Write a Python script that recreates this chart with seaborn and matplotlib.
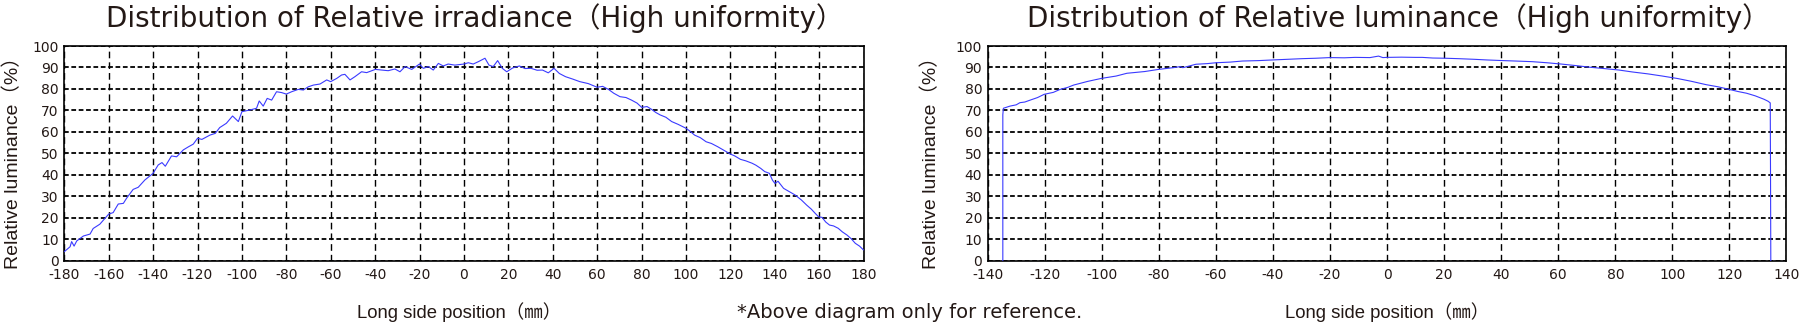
import matplotlib
matplotlib.use("Agg")
import matplotlib.pyplot as plt
import seaborn as sns
import pandas as pd

# ---- data ----
irr_pos = [-180, -177.4, -176.7, -175.6, -174.4, -171.4, -168.4, -167, -164, -160, -158, -155.7,
           -153.4, -152, -149, -146.7, -143.7, -140, -137.7, -136, -134.5, -131.7, -129.4, -126.4,
           -124, -121.9, -120, -118, -114.4, -112, -110, -107, -104.2, -101.6, -100, -96.4, -93.4,
           -92.2, -90.4, -88.6, -86.6, -84.4, -82.1, -80, -77.6, -74.6, -72.3, -70.1, -67.8, -64.8,
           -61.8, -60, -57.3, -55.1, -53.6, -51.3, -49.1, -46.1, -43.8, -39.9, -37.1, -34.1, -31.1,
           -28.8, -26.5, -23.5, -20, -18.3, -16, -13.8, -11.5, -9.3, -7.1, -4.1, 0, 2, 4.2, 6.5,
           9.5, 11.3, 13.2, 15.2, 17.3, 19.3, 22, 25, 27.5, 30.2, 33, 35.4, 38, 40.6, 43, 45.8, 49,
           52.2, 56, 60, 62.5, 65.1, 67.5, 70.3, 73, 75.5, 78, 80.1, 82.5, 84.5, 86.5, 88.4, 91,
           93.6, 96.5, 100, 102, 103.9, 106.5, 109.1, 111.5, 114.3, 117, 120, 122, 124.6, 127,
           129.8, 131.5, 133.7, 135.5, 137.6, 139, 140.1, 141.5, 144, 146.5, 149.2, 152, 154.4,
           156.5, 158.2, 159.8, 161.3, 163, 164.7, 166.5, 168.6, 170.5, 172.5, 174.5, 176.3,
           178.2, 180]
irr_val = [4.2, 6.5, 8.9, 6.8, 9.2, 11.5, 12.4, 15, 17, 21.7, 22.4, 26.4,
           26.7, 29, 33.2, 34.2, 37.6, 40.7, 44.6, 45.7, 44, 48.8, 48.4, 51.6,
           53.1, 54.3, 57, 56.5, 58.5, 59.3, 62, 64, 67.4, 64.8, 69.4, 70.2, 71,
           74.4, 72, 75.6, 74.8, 78.7, 78.3, 77.6, 78.7, 79.8, 79.5, 81, 81.8, 82.3,
           84.2, 83.4, 84.9, 86.5, 86.8, 84.2, 85.7, 88, 87.6, 89.1, 88.8, 88.5, 89.3,
           88, 90.4, 89.1, 91.6, 89.6, 90.4, 88.8, 91.9, 90.7, 91.6, 91.1, 91.6, 92.2, 91.6, 92.7,
           94.3, 91.1, 90.4, 93.2, 89.6, 88, 89.8, 90.7, 89.5, 89.6, 88.7, 88.8, 87.5, 89.6, 87.2, 85.7, 84.6,
           83.4, 82.5, 80.8, 81.2, 79.8, 78.0, 76.4, 76.0, 74.8, 73.4, 71.4, 71.8, 70.5, 69.0, 67.9, 66.8,
           64.8, 63.5, 61.7, 60.2, 58.5, 57.3, 55.4, 54.6, 53.1, 51.5, 49.7, 48.8, 47.2, 46.5,
           45.4, 44.5, 43, 41.5, 40.7, 37.5, 36, 37, 33.7, 32.2, 30.6, 28.3, 25.9,
           24.0, 22.1, 20.4, 20.2, 18.0, 16.6, 16.2, 15.1, 13.4, 12, 10.2, 8.1,
           6.8, 5]

lum_pos = [-134.7, -134.7, -134.5, -132.2, -130, -128.7, -127, -125.1, -122.5, -120.2, -117,
           -114.6, -112, -109.9, -105, -100.2, -95, -91.2, -85, -80.1, -75, -72.5, -71.6, -67, -63,
           -60, -55, -50.7, -45, -40.2, -35, -29.8, -25, -20.1, -15, -11.2, -6, -3, -1.5, 0, 5, 9.9,
           12.3, 16, 20.4, 25, 30.6, 35, 40.7, 45, 50.9, 56, 61, 66, 71.2, 76, 81.3, 86, 91.5, 96.5,
           101.6, 106.5, 111.8, 116, 119.9, 123, 126, 129, 132.1, 133.5, 134.3, 134.4, 134.5]
lum_val = [0, 68, 71, 72, 72.6, 73.6, 73.9, 74.8, 76.0, 77.5, 78.4,
           79.8, 80.7, 81.8, 83.5, 84.9, 86.0, 87.3, 88.1, 89.1, 89.9, 90.4, 89.9, 91.5, 91.8,
           92.2, 92.5, 93, 93.2, 93.5, 93.8, 94.1, 94.3, 94.6, 94.5, 94.7, 94.6, 95.3, 94.6, 94.7, 94.8, 94.7,
           94.7, 94.4, 94.3, 94.1, 93.8, 93.5, 93.2, 93.0, 92.7, 92.2, 91.6, 90.9, 90.1, 89.5, 88.8, 87.9, 87, 86.0,
           84.9, 83.6, 82.0, 81.0, 79.8, 78.8, 78, 76.8, 75.2, 74.3, 73.5, 40, 0]

x_ticks_left = list(range(-180, 181, 20))
x_ticks_right = list(range(-140, 141, 20))
y_ticks = list(range(0, 101, 10))

titles = ["Distribution of Relative irradiance（High uniformity）",
          "Distribution of Relative luminance（High uniformity）"]
ylabel_text = "Relative luminance（%）"
xlabel_text = "Long side position（㎜）"
note_text = "*Above diagram only for reference."

# ---- style ----
sns.set_theme(style="white")
plt.rcParams["font.family"] = ["Liberation Sans", "Noto Sans CJK SC", "DejaVu Sans"]
plt.rcParams["lines.scale_dashes"] = False
TXT = "#231815"
LINE = "#3a3aff"

W, H = 1806, 327
fig = plt.figure(figsize=(W / 100, H / 100), dpi=100)

def axes_rect(x0, x1, ytop=46.0, ybot=260.7):
    return [x0 / W, (H - ybot) / H, (x1 - x0) / W, (ybot - ytop) / H]

ax1 = fig.add_axes(axes_rect(64.3, 863.5))
ax2 = fig.add_axes(axes_rect(987.7, 1786.5))

df1 = pd.DataFrame({"pos": irr_pos, "val": irr_val})
df2 = pd.DataFrame({"pos": lum_pos, "val": lum_val})

sns.lineplot(data=df1, x="pos", y="val", ax=ax1, color=LINE, lw=0.8,
             estimator=None, sort=False, zorder=5)
sns.lineplot(data=df2, x="pos", y="val", ax=ax2, color=LINE, lw=0.8,
             estimator=None, sort=False, zorder=5)

for ax, xt, title, ylx, xl_dx in [(ax1, x_ticks_left, titles[0], 13.0, -5.0),
                                  (ax2, x_ticks_right, titles[1], 931.0, 0.0)]:
    ax.set_xlim(xt[0], xt[-1])
    ax.set_ylim(0, 100)
    ax.set_xticks(xt)
    ax.set_yticks(y_ticks)
    ax.set_xticklabels([str(v) for v in xt])
    ax.set_yticklabels([str(v) for v in y_ticks])
    ax.tick_params(axis="both", length=0, labelsize=10, colors=TXT,
                   labelfontfamily="DejaVu Sans")
    ax.tick_params(axis="x", pad=5)
    ax.tick_params(axis="y", pad=4)
    ax.xaxis.grid(True, color="black", lw=1.0, linestyle=(0, (4.8, 2.9)))
    ax.yaxis.grid(True, color="black", lw=1.3, linestyle=(0, (3.4, 1.9)))
    ax.set_axisbelow(True)
    for s in ax.spines.values():
        s.set_visible(True)
        s.set_color("black")
        s.set_linewidth(1.2)
    pos = ax.get_position()
    aw = pos.width * W
    # labels
    ax.set_xlabel(xlabel_text, fontsize=13.3, color=TXT, va="baseline",
                  family=["Liberation Sans", "Noto Sans CJK SC"])
    ax.xaxis.set_label_coords(0.5 + xl_dx / aw, (260.7 - 318.0) / (260.7 - 46.0))
    ax.set_ylabel(ylabel_text, fontsize=14, color=TXT, va="center",
                  family=["Liberation Sans", "Noto Sans CJK SC"])
    ax.yaxis.set_label_coords((ylx - pos.x0 * W) / aw, 0.48)
    ax.set_title("")
    fig.text(pos.x0 + pos.width / 2 + 11.0 / W, (H - 26.7) / H, title, ha="center",
             va="baseline", fontsize=20, color=TXT,
             family=["DejaVu Sans", "Noto Sans CJK SC"])

fig.text(910 / W, (H - 318.0) / H, note_text, ha="center", va="baseline",
         fontsize=14, color=TXT, family=["DejaVu Sans", "Noto Sans CJK SC"])

fig.savefig("out.png", dpi=100, facecolor="white")
